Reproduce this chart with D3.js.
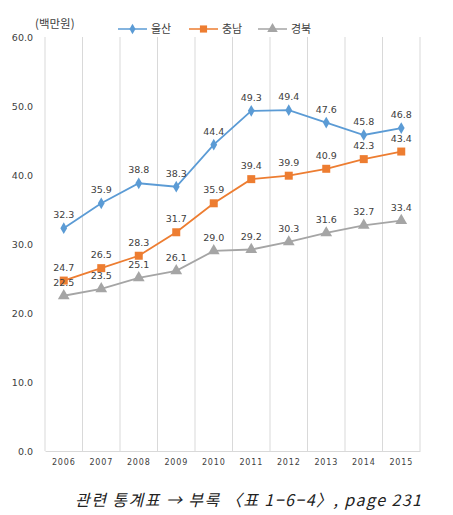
<!DOCTYPE html>
<html><head><meta charset="utf-8">
<script src="https://cdn.jsdelivr.net/npm/d3@7"></script>
<style>body{margin:0;background:#fff}svg{display:block}</style>
</head><body>
<script>
const years = ["2006","2007","2008","2009","2010","2011","2012","2013","2014","2015"];
const seriesNames = ["울산","충남","경북"];
const ulsan = [32.3,35.9,38.8,38.3,44.4,49.3,49.4,47.6,45.8,46.8];
const chungnam = [24.7,26.5,28.3,31.7,35.9,39.4,39.9,40.9,42.3,43.4];
const gyeongbuk = [22.5,23.5,25.1,26.1,29.0,29.2,30.3,31.6,32.7,33.4];
const yTicks = [0,10,20,30,40,50,60];
const colors = ["#5b9bd5","#ed7d31","#a5a5a5"];
const symbols = [d3.symbolDiamond, d3.symbolSquare, d3.symbolTriangle];
const symSizes = [40, 64, 60];

const W=453,H=515;
const m={left:45,right:33,top:37,bottom:64};
const svg=d3.select("body").append("svg").attr("width",W).attr("height",H);
const font='"DejaVu Sans","Noto Sans CJK KR",sans-serif';
const kfont='"Noto Sans CJK KR",sans-serif';

const x=d3.scaleBand().domain(years).range([m.left,W-m.right]);
const y=d3.scaleLinear().domain([0,60]).range([H-m.bottom,m.top]);

// vertical gridlines at band edges
const edges = years.map(d=>x(d)).concat([x(years[years.length-1])+x.bandwidth()]);
svg.append("g").selectAll("line").data(edges).join("line")
  .attr("x1",d=>d).attr("x2",d=>d).attr("y1",y(60)).attr("y2",y(0))
  .attr("stroke","#d9d9d9").attr("stroke-width",1);

// x axis
const xa=svg.append("g").attr("transform",`translate(0,${y(0)})`)
  .call(d3.axisBottom(x).tickSize(0).tickPadding(8));
xa.select(".domain").attr("stroke","#d9d9d9");
xa.selectAll("text").attr("font-family",font).attr("font-size",8).attr("letter-spacing",0.8).attr("fill","#404040");

// y axis
const ya=svg.append("g").attr("transform",`translate(${m.left-12},0)`)
  .call(d3.axisLeft(y).tickValues(yTicks).tickFormat(d3.format(".1f")).tickSize(0).tickPadding(0));
ya.select(".domain").remove();
ya.selectAll("text").attr("font-family",font).attr("font-size",9.5).attr("fill","#404040");

// unit label
svg.append("text").attr("x",35).attr("y",28).text("(백만원)")
  .attr("font-family",kfont).attr("font-size",11.5).attr("fill","#404040");

const all=[ulsan,chungnam,gyeongbuk];
const line=d3.line().x((d,i)=>x(years[i])+x.bandwidth()/2).y(d=>y(d));
all.forEach((vals,s)=>{
  const g=svg.append("g");
  g.append("path").attr("d",line(vals)).attr("fill","none").attr("stroke",colors[s]).attr("stroke-width",1.8);
  g.selectAll("path.pt").data(vals).join("path").attr("class","pt")
    .attr("d",d3.symbol().type(symbols[s]).size(symSizes[s]))
    .attr("transform",(d,i)=>`translate(${x(years[i])+x.bandwidth()/2},${y(d)})`)
    .attr("fill",colors[s]);
  g.selectAll("text").data(vals).join("text")
    .attr("x",(d,i)=>x(years[i])+x.bandwidth()/2)
    .attr("y",d=>y(d)-10)
    .attr("text-anchor","middle")
    .attr("font-family",font).attr("font-size",9.5).attr("fill","#404040")
    .text(d=>d.toFixed(1));
});

// legend
const legX=[118,189,258];
seriesNames.forEach((n,s)=>{
  const g=svg.append("g").attr("transform",`translate(${legX[s]},29)`);
  g.append("line").attr("x1",0).attr("x2",29).attr("y1",0).attr("y2",0).attr("stroke",colors[s]).attr("stroke-width",1.5);
  g.append("path").attr("d",d3.symbol().type(symbols[s]).size(symSizes[s]*0.8)).attr("transform","translate(14.5,0)").attr("fill",colors[s]);
  g.append("text").attr("x",33).attr("y",4).text(n).attr("font-family",kfont).attr("font-size",11).attr("fill","#404040");
});

// footer
svg.append("text").attr("x",75).attr("y",506)
  .attr("textLength",346).attr("lengthAdjust","spacing")
  .attr("font-family",kfont).attr("font-style","italic").attr("font-size",16).attr("fill","#222")
  .text("관련 통계표 → 부록 〈표 1−6−4〉, page 231");
</script>
</body></html>
